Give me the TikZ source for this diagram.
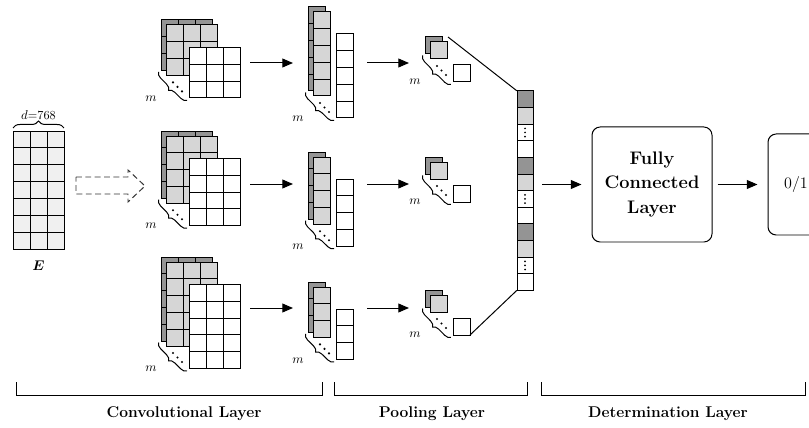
\documentclass[tikz,border=0pt]{standalone}
\usepackage{amsmath}
\usetikzlibrary{arrows.meta, positioning, decorations.pathreplacing}

\begin{document}
\begin{tikzpicture}[
    x=0.03cm, y=-0.03cm,
    cell/.style={draw=black, line width=0.85pt},
    embcell/.style={cell, fill=black!6},
    darkcell/.style={cell, fill=black!42},
    lightcell/.style={cell, fill=black!16},
    whitecell/.style={cell, fill=white},
    arrow/.style={-{Triangle[length=9pt, width=7.5pt]}, line width=0.85pt},
    mbrace/.style={decorate, decoration={brace, mirror, amplitude=5pt}, line width=0.85pt},
    mlabel/.style={font=\fontsize{11}{13}\selectfont, inner sep=0pt},
    layer/.style={draw, line width=0.85pt, rounded corners=7pt, align=center, inner sep=0pt},
    bracket/.style={line width=0.85pt},
    caption/.style={font=\fontsize{13.3}{15}\selectfont\bfseries}
]
    \useasboundingbox (0,0) rectangle (809,428);
    \clip (0,0) rectangle (809,428);

    % embedding matrix
    \foreach \i in {0,1,2}
        \foreach \j in {0,...,6}
            \draw[embcell] ({13+17*\i},{131+16.86*\j}) rectangle +(17,16.86);
    \coordinate (eleft) at (13,128);
    \coordinate (eright) at (64,128);
    \draw[decorate, decoration={brace, amplitude=6pt}, line width=0.85pt] (eleft) -- (eright)
        node[midway, above=6pt, inner sep=1pt, font=\fontsize{10.5}{12}\selectfont] (dlab) {$d$=768};
    \node[font=\fontsize{12.5}{14}\selectfont] (elab) at (38.5,266) {$\boldsymbol{E}$};

    \draw[dashed, dash pattern=on 5pt off 3pt, line width=0.85pt, draw=black!80]
        (76,177) -- (128,177) -- (128,170) -- (145,186) -- (128,202) -- (128,194) -- (76,194) -- cycle;

    % three branches
    \foreach \name/\h/\n/\cy/\fy/\py/\ay in {a/3/5/20/7/37/63, b/4/4/131/152/157/184, c/5/3/257/282/290/308} {
        \foreach \i in {0,1,2} \foreach \j in {1,...,\h}
            \draw[darkcell] ({161+17*\i},{\cy+16.8*(\j-1)}) rectangle +(17,16.8);
        \foreach \i in {0,1,2} \foreach \j in {1,...,\h}
            \draw[lightcell] ({166+17*\i},{\cy+5+16.8*(\j-1)}) rectangle +(17,16.8);
        \foreach \i in {0,1,2} \foreach \j in {1,...,\h}
            \draw[whitecell] ({189+17*\i},{\cy+27.5+16.8*(\j-1)}) rectangle +(17,16.8);

        \foreach \j in {1,...,\n}
            \draw[darkcell] (308,{\fy+16.8*(\j-1)}) rectangle +(17,16.8);
        \foreach \j in {1,...,\n}
            \draw[lightcell] (313,{\fy+5+16.8*(\j-1)}) rectangle +(17,16.8);
        \foreach \j in {1,...,\n}
            \draw[whitecell] (336,{\fy+27+16.8*(\j-1)}) rectangle +(17,16.8);

        \draw[darkcell] (425,\py) rectangle +(17,17);
        \draw[lightcell] (430,{\py+5}) rectangle +(17,17);
        \draw[whitecell] (453,{\py+28}) rectangle +(17,17);

        \pgfmathsetmacro\cbot{\cy+16.8*\h}
        \pgfmathsetmacro\fbot{\fy+16.8*\n}
        \pgfmathsetmacro\pbot{\py+17}
        \foreach \bx/\by/\wx/\wy/\k in {161/\cbot/189/{\cbot+27.5}/1, 308/\fbot/336/{\fbot+27}/2, 425/\pbot/453/{\pbot+28}/3} {
            \draw[mbrace] ({\bx-2.5},{\by+1.5}) -- ({\wx-2},{\wy+2.5});
            \foreach \d in {12,16.5,21}
                \fill ({\bx+\d},{\by+\d}) circle[radius=1pt];
            \node[mlabel] (m\name\k) at ({\bx-10},{\by+28}) {$m$};
        }

        \coordinate (filt\name) at (250,\ay);
        \coordinate (map\name) at (293,\ay);
        \coordinate (mapo\name) at (367,\ay);
        \coordinate (pool\name) at (409,\ay);
        \draw[arrow] (filt\name) -- (map\name);
        \draw[arrow] (mapo\name) -- (pool\name);
    }

    % concatenated vector
    \foreach \k/\cellkind in {0/darkcell, 1/lightcell, 2/whitecell, 3/whitecell, 4/darkcell, 5/lightcell,
                              6/whitecell, 7/whitecell, 8/darkcell, 9/lightcell, 10/whitecell, 11/whitecell}
        \draw[\cellkind] (517,{91+16.6*\k}) rectangle +(16,16.6);
    \foreach \k in {2,6,10}
        \foreach \d in {4.3,8.3,12.5}
            \fill (525,{91+16.6*\k+\d}) circle[radius=0.85pt];
    \node[inner sep=0pt, minimum width=0.48cm, minimum height=5.976cm] (vec) at (525,190.6) {};

    \coordinate (poolatop) at (448,37);
    \coordinate (poolcbot) at (470,335);
    \draw[line width=0.85pt] (poolatop) -- (vec.north west);
    \draw[line width=0.85pt] (poolcbot) -- (vec.south west);

    \node[layer, minimum width=3.6cm, minimum height=3.45cm, font=\fontsize{15.5}{21}\selectfont\bfseries] (fc) at (652,184.5) {Fully\\Connected\\Layer};
    \node[layer, right=1.65cm of fc, minimum width=1.68cm, minimum height=3.03cm, font=\fontsize{13.7}{16}\selectfont] (out) {0/1};

    \draw[arrow] ([xshift=0.27cm]vec.east |- fc.west) -- ([xshift=-0.3cm]fc.west);
    \draw[arrow] ([xshift=0.15cm]fc.east) -- ([xshift=-0.3cm]out.west);

    % layer brackets
    \draw[bracket] (16,382) -- (16,395) -- (322,395) -- (322,382);
    \draw[bracket] (334,382) -- (334,395) -- (527,395) -- (527,382);
    \draw[bracket] (541,382) -- (541,395) -- (805,395) -- (805,382);
    \node[caption] (convlab) at (184,414) {Convolutional Layer};
    \node[caption] (poollab) at (432,414) {Pooling Layer};
    \node[caption] (detlab) at (668,414) {Determination Layer};
\end{tikzpicture}
\end{document}
